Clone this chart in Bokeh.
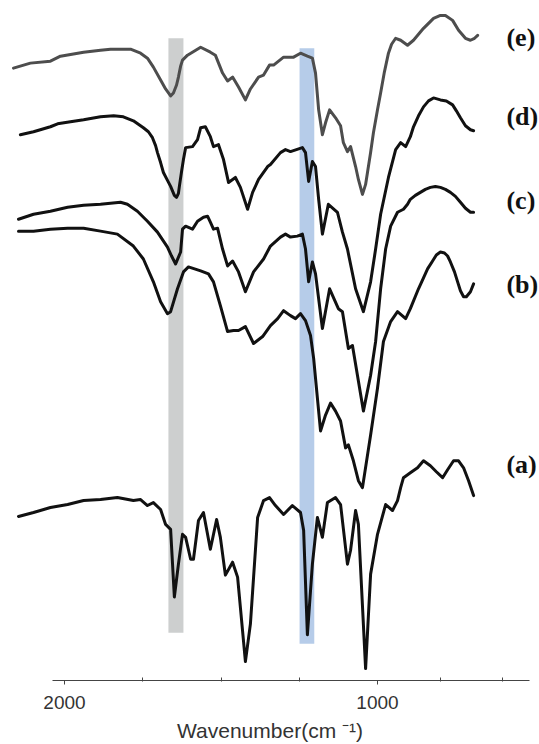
from bokeh.plotting import figure
from bokeh.models import Range1d, FixedTicker, Label
from bokeh.embed import file_html
from bokeh.resources import INLINE

# ---- data (wavenumber in cm-1, stacked transmittance in arbitrary offset units) ----
e_w = [2163,2109,2045,2013,1939,1885,1853,1789,1757,1735,1716,1693,1677,1661,1652,1642,1636,1629,1623,1607,
       1565,1534,1518,1495,1479,1463,1444,1422,1406,1380,1364,1345,1332,1300,1268,1246,1224,1208,1198,1188,
       1176,1166,1153,1134,1118,1109,1096,1086,1070,1061,1048,1038,1032,1022,1013,1000,990,978,965,955,
       942,926,904,885,853,821,799,783,760,741,719,703,690,680]
e_y = [616,621,623,628,632,634,635,635,631,626,617,604,595,588,591,599,607,618,624,629,
       637,632,629,611,603,607,597,584,595,607,609,619,619,627,627,631,628,626,611,574,
       549,561,574,566,558,541,532,537,517,504,489,499,511,531,551,574,591,612,631,640,
       646,644,639,644,656,666,669,669,664,654,646,644,646,649]

d_w = [2141,2099,2045,2022,1981,1939,1885,1843,1812,1780,1748,1732,1719,1709,1703,1693,1684,1671,1661,1649,
       1642,1636,1633,1626,1620,1613,1591,1575,1565,1550,1534,1524,1508,1492,1476,1454,1438,1415,1399,1380,
       1351,1342,1310,1294,1278,1240,1230,1220,1208,1198,1188,1176,1157,1128,1112,1096,1070,1045,1022,1006,
       990,965,942,926,910,895,885,869,853,837,821,799,780,760,748,735,719,703,693]
d_y = [549,552,557,560,562,564,567,568,567,563,556,552,546,538,531,521,511,503,497,488,
       486,490,497,512,524,536,537,544,556,557,547,537,539,524,501,506,496,474,491,504,
       517,519,531,534,532,536,531,502,522,517,484,449,479,471,451,434,394,371,401,434,
       469,506,534,541,537,547,557,568,577,583,586,584,583,579,573,566,558,554,553]

c_w = [2147,2099,2045,1990,1939,1885,1853,1821,1799,1767,1735,1703,1671,1658,1645,1629,1623,1613,1591,1575,
       1556,1543,1534,1524,1511,1495,1479,1463,1444,1422,1396,1364,1342,1310,1294,1278,1256,1240,1230,1220,
       1208,1198,1176,1153,1125,1112,1093,1080,1045,1022,1006,990,974,958,
       936,917,904,895,879,863,847,831,815,799,783,767,751,735,719,703,693]
c_y = [464,469,472,476,478,479,480,481,479,472,462,451,436,427,419,431,454,457,454,462,
       466,467,461,454,455,434,417,422,411,391,411,424,437,446,449,446,447,449,434,401,
       421,409,354,394,374,371,334,337,271,307,341,394,434,457,
       471,474,479,484,488,491,494,496,497,496,494,491,487,481,475,471,471]

b_w = [2147,2099,2045,1990,1939,1885,1831,1780,1748,1716,1693,1671,1661,1639,1620,1604,1565,1540,1524,1502,
       1479,1460,1444,1422,1396,1367,1342,1319,1300,1278,1262,1246,1230,1214,1204,1192,1182,1166,1150,1134,
       1118,1102,1093,1077,1061,1048,1022,1000,981,958,936,910,895,
       869,853,840,824,812,799,786,776,767,754,744,735,725,716,703,693]
b_y = [452,452,454,455,455,452,449,437,424,401,381,369,371,394,411,416,412,409,401,377,
       351,352,352,356,339,346,357,364,372,367,364,369,362,347,324,284,251,267,279,271,
       261,234,237,221,201,194,247,294,341,361,371,364,374,
       394,405,414,422,428,431,430,427,421,411,401,392,386,386,391,399]

a_w = [2147,2099,2045,1990,1939,1885,1831,1780,1757,1735,1716,1693,1677,1661,1649,1636,1623,1613,1597,1588,
       1572,1556,1534,1514,1502,1486,1463,1447,1422,1406,1383,1364,1345,1326,1300,1272,1246,1236,1224,1208,
       1192,1176,1160,1134,1118,1096,1086,1070,1061,1038,1022,1000,974,952,
       936,926,917,895,872,853,831,812,792,776,757,741,725,709,693]
a_y = [165,169,174,177,181,182,184,181,182,176,179,172,157,152,84,117,147,144,122,122,
       161,169,132,162,144,106,119,104,19,57,164,181,184,176,167,176,169,151,46,117,
       164,144,179,184,177,117,131,171,157,12,107,147,177,171,
       181,194,204,209,214,221,216,210,204,212,221,221,214,201,186]

series_names = ["(a)", "(b)", "(c)", "(d)", "(e)"]

# highlighted bands (cm-1)
band_left = [1620, 1202]
band_right = [1668, 1249]
band_bottom = [48, 37]
band_top = [646, 636]

major_ticks = [2000, 1000]
minor_ticks = [1750, 1500, 1250, 800, 600]

# ---- figure ----
p = figure(width=539, height=744, output_backend="svg", toolbar_location=None,
           x_range=Range1d(2204.5, 482.4), y_range=Range1d(0, 684),
           y_axis_location=None,
           min_border_left=0, min_border_right=0, min_border_top=0, min_border_bottom=0)
p.outline_line_color = None
p.xgrid.visible = False
p.ygrid.visible = False
p.background_fill_color = "white"
p.border_fill_color = "white"

p.quad(left=band_left, right=band_right, bottom=band_bottom, top=band_top,
       fill_color=["#cdcfcf", "#b6cce9"], line_color=None)

curves = [(a_w, a_y, "#111111"), (b_w, b_y, "#111111"), (c_w, c_y, "#111111"),
          (d_w, d_y, "#111111"), (e_w, e_y, "#4d4d4d")]
for xs, ys, col in curves:
    p.line(xs, ys, line_width=3, line_color=col, line_join="round", line_cap="round")

label_y = {"(a)": 217, "(b)": 398, "(c)": 483, "(d)": 567, "(e)": 647}
for name in series_names:
    p.add_layout(Label(x=588, y=label_y[name], text=name, text_font="Liberation Serif",
                       text_font_style="bold", text_font_size="26px", text_color="#111111",
                       text_baseline="middle", text_align="left"))

ax = p.xaxis[0]
ax.ticker = FixedTicker(ticks=major_ticks, minor_ticks=minor_ticks)
ax.bounds = (514, 2038)
ax.axis_line_color = "#444444"
ax.axis_line_width = 1.2
ax.major_tick_line_color = "#444444"
ax.minor_tick_line_color = "#444444"
ax.major_tick_out = 4
ax.major_tick_in = 0
ax.minor_tick_out = 1
ax.minor_tick_in = 3
ax.major_label_standoff = 11
ax.major_label_text_font = "Liberation Sans"
ax.major_label_text_font_size = "19px"
ax.major_label_text_color = "#333333"
ax.axis_label = "Wavenumber(cm \u207b\u00b9)"
ax.axis_label_text_font = "Liberation Sans"
ax.axis_label_text_font_size = "21px"
ax.axis_label_text_font_style = "normal"
ax.axis_label_text_color = "#333333"
ax.axis_label_standoff = 7

open("out.html", "w").write(file_html(p, INLINE))
